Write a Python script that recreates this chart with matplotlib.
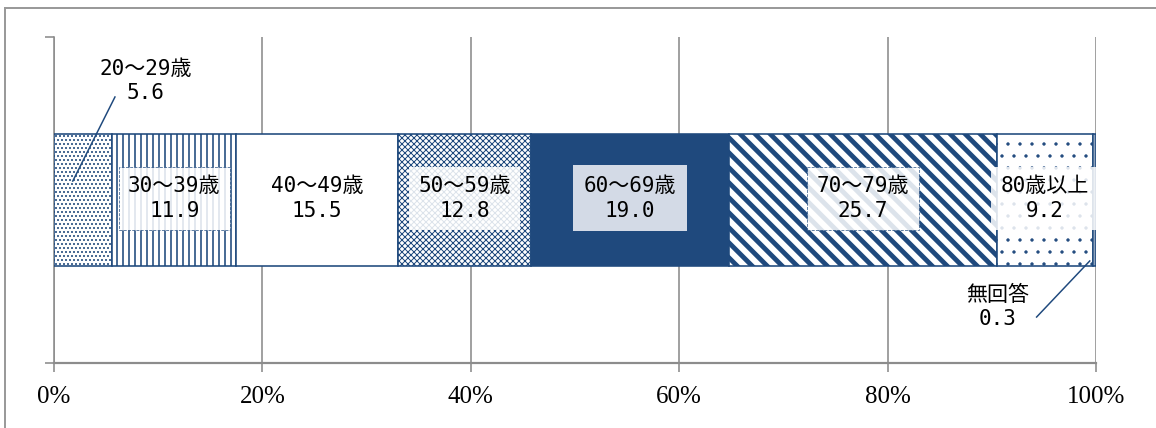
import numpy as np
import matplotlib.pyplot as plt
from matplotlib.lines import Line2D
from matplotlib.collections import LineCollection

# data (percent)
groups = ['20～29歳', '30～39歳', '40～49歳', '50～59歳', '60～69歳',
          '70～79歳', '80歳以上', '無回答']
shares = [5.6, 11.9, 15.5, 12.8, 19.0, 25.7, 9.2, 0.3]
xticks = [0, 20, 40, 60, 80, 100]

navy = '#1F497D'
grey = '#8C8C8C'
DPI = 72

hatches = ['...', '||', None, 'xxxx', None, None, '.', '||']
hatch_lw = [1.2, 1.6, 1.0, 1.0, 1.0, 1.0, 0.9, 1.0]
faces = ['white', 'white', 'white', 'white', navy, 'white', 'white', 'white']

fig = plt.figure(figsize=(1156 / DPI, 428 / DPI), dpi=DPI)
ax = fig.add_axes([54 / 1156, 1 - 363 / 428, 1042 / 1156, 326 / 428])
ax.set_xlim(0, 100)
ax.set_ylim(0, 1)

lefts = np.concatenate([[0], np.cumsum(shares)[:-1]])
bars = ax.barh(0.5, shares, left=lefts, height=0.402, color=faces,
               edgecolor=navy, linewidth=1.6, zorder=3)
for b, h, w in zip(bars, hatches, hatch_lw):
    if h:
        b.set_hatch(h)
        if hasattr(b, 'set_hatch_linewidth'):
            b.set_hatch_linewidth(w)

# thick diagonal stripes for 70～79
pos = ax.get_position()
px_x = fig.get_figwidth() * DPI * pos.width / 100   # px per percent
px_y = fig.get_figheight() * DPI * pos.height       # px per y unit
step = 15 / px_x
x0s = np.arange(lefts[5] - px_y / px_x, lefts[5] + shares[5] + step, step)
segs = [[(x, 1), (x + px_y / px_x, 0)] for x in x0s]
lc = LineCollection(segs, colors=navy, linewidths=4.8, zorder=3.2)
ax.add_collection(lc)
lc.set_clip_path(bars[5])

font = ['DejaVu Sans Mono', 'Noto Sans CJK JP']
fs = 21
centres = lefts + np.array(shares) / 2

box_white = dict(boxstyle='square,pad=0.45', fc='white', alpha=0.85, ec='none')
box_dash = dict(boxstyle='square,pad=0.45', fc='white', alpha=0.85, ec=navy,
                ls='--', lw=0.8)
box_60 = dict(boxstyle='square,pad=0.5', fc='#D3DAE6', ec='none')
boxes = [None, box_dash, None, box_white, box_60, box_dash, box_white, None]

for i in range(1, 7):
    ax.text(centres[i], 0.505, f'{groups[i]}\n{shares[i]:.1f}', ha='center',
            va='center', fontsize=fs, family=font, linespacing=1.3,
            bbox=boxes[i], zorder=5)

# labels outside the bar, with leader lines
ax.text(8.8, 0.865, f'{groups[0]}\n{shares[0]:.1f}', ha='center', va='center',
        fontsize=fs, family=font, linespacing=1.3, zorder=5)
ax.plot([1.8, 5.85], [0.558, 0.816], color=navy, lw=1.5, zorder=6)
ax.text(90.6, 0.172, f'{groups[7]}\n{shares[7]:.1f}', ha='center', va='center',
        fontsize=fs, family=font, linespacing=1.3, zorder=5)
ax.plot([94.3, 99.4], [0.141, 0.313], color=navy, lw=1.5, zorder=6)

ax.set_xticks(xticks)
ax.set_xticklabels([f'{t}%' for t in xticks], family='Liberation Serif',
                   fontsize=25)
ax.set_yticks([0, 1])
ax.set_yticklabels([])
ax.tick_params(axis='both', direction='out', length=9, width=1.6, color=grey)
ax.tick_params(axis='x', pad=14)
ax.grid(axis='x', color=grey, lw=1.6)
ax.set_axisbelow(True)
for s in ['top', 'right']:
    ax.spines[s].set_visible(False)
for s in ['left', 'bottom']:
    ax.spines[s].set_color(grey)
    ax.spines[s].set_linewidth(1.6)
ax.spines['bottom'].set_linewidth(2.2)

# outer frame of the chart area (cropped)
fig.add_artist(Line2D([5 / 1156, 1], [1 - 8 / 428] * 2, color='#9A9A9A',
                      lw=2, transform=fig.transFigure))
fig.add_artist(Line2D([5 / 1156] * 2, [0, 1 - 8 / 428], color='#9A9A9A',
                      lw=2, transform=fig.transFigure))

fig.savefig('out.png', dpi=DPI)
